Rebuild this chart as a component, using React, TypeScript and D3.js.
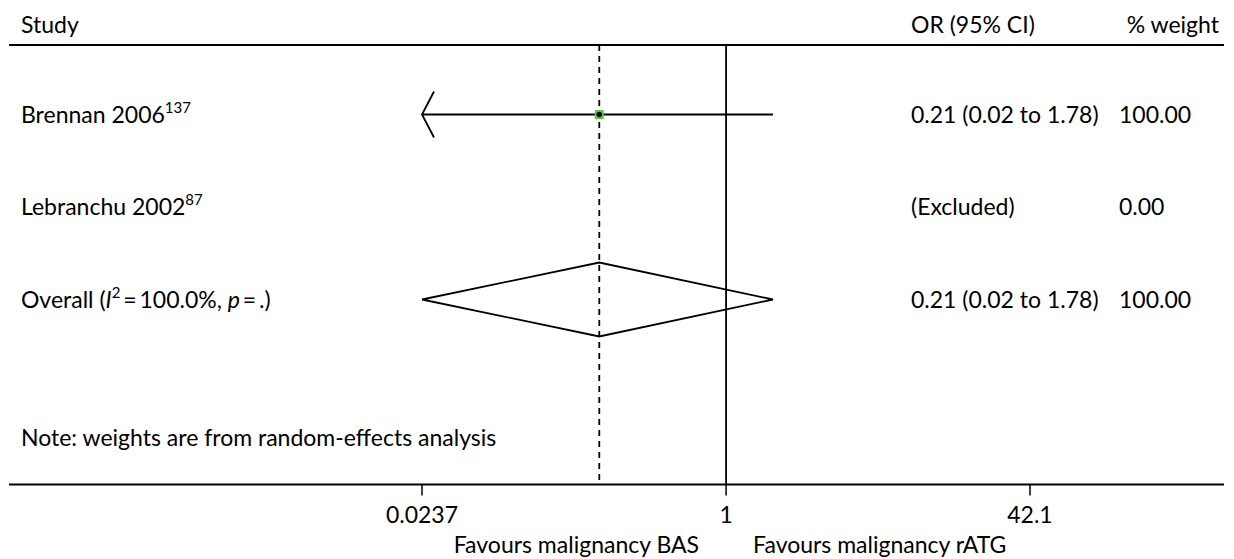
import React from "react";
import * as d3 from "d3";

const studyNames = ["Brennan 2006", "Lebranchu 2002"];
const studyRefs = ["137", "87"];
const studyOR: (number | null)[] = [0.21, null];
const studyLower: (number | null)[] = [0.02, null];
const studyUpper: (number | null)[] = [1.78, null];
const studyCI = ["0.21 (0.02 to 1.78)", "(Excluded)"];
const studyWeight = ["100.00", "0.00"];

const overallOR = 0.21;
const overallLower = 0.02;
const overallUpper = 1.78;
const overallCI = "0.21 (0.02 to 1.78)";
const overallWeight = "100.00";

const tickValues = [0.0237, 1, 42.1];
const tickLabels = ["0.0237", "1", "42.1"];

const W = 1234;
const H = 559;
const FONT = "Lato, 'Open Sans', sans-serif";
const FS = 23;
const SUP = 15;

export default function App() {
  const x = d3.scaleLog().domain([0.0237, 42.1]).range([422, 1030]);
  const y = d3.scaleLinear().domain([0, 4]).range([114.5, 484.5]);
  const xMin = x.domain()[0];
  const xMax = x.domain()[1];
  const clampX = (v: number) => x(Math.max(xMin, Math.min(xMax, v)));

  const top = 45;
  const axisY = y(4);
  const colCI = 911;
  const colW = 1119;
  const textX = 21;
  const base = 8;

  const diamondY = y(2);
  const dh = 37;
  const diamond = d3.line()([
    [clampX(overallLower), diamondY],
    [x(overallOR), diamondY - dh],
    [clampX(overallUpper), diamondY],
    [x(overallOR), diamondY + dh],
    [clampX(overallLower), diamondY],
  ] as [number, number][]);

  return (
    <svg
      width={W}
      height={H}
      style={{ position: "absolute", left: 0, top: 0, background: "#fff" }}
      fontFamily={FONT}
      fontSize={FS}
      fill="#000"
    >
      <rect x={0} y={0} width={W} height={H} fill="#fff" />
      {/* header */}
      <text x={textX} y={33}>Study</text>
      <text x={colCI} y={33}>OR (95% CI)</text>
      <text x={1219} y={33} textAnchor="end">% weight</text>
      <line x1={9} x2={1224} y1={top} y2={top} stroke="#000" strokeWidth={2} />

      {/* reference lines */}
      <line x1={x(overallOR)} x2={x(overallOR)} y1={top} y2={axisY} stroke="#000" strokeWidth={1.8} strokeDasharray="6 5" />
      <line x1={x(1)} x2={x(1)} y1={top} y2={axisY} stroke="#000" strokeWidth={1.8} />

      {/* studies */}
      {studyNames.map((name, i) => {
        const yy = y(i);
        const est = studyOR[i];
        const lo = studyLower[i];
        const hi = studyUpper[i];
        return (
          <g key={name}>
            <text x={textX} y={yy + base}>
              {name}
              <tspan fontSize={SUP} dy={-10}>{studyRefs[i]}</tspan>
            </text>
            <text x={colCI} y={yy + base}>{studyCI[i]}</text>
            <text x={colW} y={yy + base}>{studyWeight[i]}</text>
            {est != null && lo != null && hi != null && (
              <g>
                <line x1={clampX(lo)} x2={clampX(hi)} y1={yy} y2={yy} stroke="#000" strokeWidth={1.8} />
                {lo < xMin && (
                  <polyline
                    points={`${x(xMin) + 12},${yy - 23} ${x(xMin)},${yy} ${x(xMin) + 12},${yy + 23}`}
                    fill="none"
                    stroke="#000"
                    strokeWidth={1.8}
                  />
                )}
                {hi > xMax && (
                  <polyline
                    points={`${x(xMax) - 12},${yy - 23} ${x(xMax)},${yy} ${x(xMax) - 12},${yy + 23}`}
                    fill="none"
                    stroke="#000"
                    strokeWidth={1.8}
                  />
                )}
                <rect x={x(est) - 4.5} y={yy - 4.5} width={9} height={9} fill="#5ec44a" />
                <circle cx={x(est)} cy={yy} r={2.7} fill="#000" />
              </g>
            )}
          </g>
        );
      })}

      {/* overall */}
      <text x={textX} y={diamondY + base}>
        Overall (<tspan fontStyle="italic">I</tspan>
        <tspan fontSize={SUP} dy={-10}>2</tspan>
        <tspan dy={10}>{"\u2009=\u2009100.0%, "}</tspan>
        <tspan fontStyle="italic">p</tspan>
        {"\u2009=\u2009.)"}
      </text>
      <path d={diamond || ""} fill="none" stroke="#000" strokeWidth={1.8} />
      <text x={colCI} y={diamondY + base}>{overallCI}</text>
      <text x={colW} y={diamondY + base}>{overallWeight}</text>

      {/* note */}
      <text x={textX} y={y(3.5) + base}>Note: weights are from random-effects analysis</text>

      {/* axis */}
      <line x1={9} x2={1224} y1={axisY} y2={axisY} stroke="#000" strokeWidth={2} />
      {tickValues.map((t, i) => (
        <g key={t}>
          <line x1={x(t)} x2={x(t)} y1={axisY} y2={axisY + 11} stroke="#000" strokeWidth={1.5} />
          <text x={x(t)} y={axisY + 38} textAnchor="middle">{tickLabels[i]}</text>
        </g>
      ))}
      <text x={x(1) - 27} y={axisY + 68} textAnchor="end">Favours malignancy BAS</text>
      <text x={x(1) + 27} y={axisY + 68}>Favours malignancy rATG</text>
    </svg>
  );
}
